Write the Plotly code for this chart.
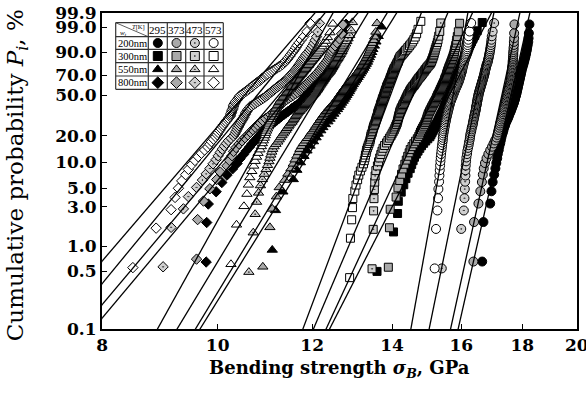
import numpy as np
import plotly.graph_objects as go

# ---------------- data ----------------
temps_K = [295, 373, 473, 573]
widths = ["200nm", "300nm", "550nm", "800nm"]
y_tick_pct = [0.1, 0.5, 1.0, 3.0, 5.0, 10.0, 20.0, 50.0, 70.0, 90.0, 99.0, 99.9]
y_tick_text = ["0.1", "0.5", "1.0", "3.0", "5.0", "10.0", "20.0", "50.0", "70.0", "90.0", "99.0", "99.9"]
x_tick_vals = [8, 10, 12, 14, 16, 18, 20]

# bending strength (GPa), sorted, per width / temperature
s200_295 = [16.66, 16.70, 16.92, 16.96, 17.00, 17.05, 17.09, 17.12, 17.15, 17.17,
            17.20, 17.22, 17.25, 17.27, 17.29, 17.31, 17.34, 17.36, 17.38, 17.41,
            17.43, 17.46, 17.49, 17.52, 17.54, 17.56, 17.59, 17.61, 17.63, 17.65,
            17.67, 17.69, 17.71, 17.72, 17.74, 17.75, 17.76, 17.78, 17.79, 17.80,
            17.81, 17.82, 17.83, 17.84, 17.85, 17.86, 17.87, 17.88, 17.89, 17.90,
            17.91, 17.92, 17.93, 17.94, 17.95, 17.96, 17.97, 17.98, 17.99, 18.01,
            18.02, 18.04, 18.05, 18.07, 18.08, 18.10, 18.11, 18.13, 18.14, 18.16,
            18.17, 18.19, 18.21, 18.22, 18.23, 18.25]
s200_373 = [16.38, 16.40, 16.54, 16.60, 16.65, 16.68, 16.71, 16.75, 16.80, 16.86,
            16.92, 16.98, 17.03, 17.08, 17.13, 17.16, 17.18, 17.20, 17.22, 17.24,
            17.25, 17.27, 17.29, 17.31, 17.32, 17.34, 17.35, 17.37, 17.38, 17.39,
            17.40, 17.42, 17.43, 17.44, 17.45, 17.46, 17.47, 17.48, 17.49, 17.50,
            17.51, 17.52, 17.53, 17.54, 17.55, 17.57, 17.58, 17.59, 17.60, 17.60,
            17.61, 17.62, 17.62, 17.63, 17.63, 17.64, 17.64, 17.65, 17.65, 17.66,
            17.66, 17.67, 17.67, 17.67, 17.68, 17.68, 17.69, 17.69, 17.69, 17.70,
            17.70, 17.71, 17.71, 17.72, 17.72, 17.73]
s200_473 = [15.41, 16.00, 16.08, 16.10, 16.11, 16.12, 16.13, 16.13, 16.14, 16.15,
            16.16, 16.18, 16.19, 16.21, 16.23, 16.24, 16.26, 16.27, 16.28, 16.29,
            16.31, 16.32, 16.33, 16.35, 16.36, 16.37, 16.38, 16.39, 16.40, 16.41,
            16.42, 16.43, 16.44, 16.45, 16.46, 16.46, 16.47, 16.48, 16.49, 16.49,
            16.50, 16.51, 16.51, 16.52, 16.53, 16.54, 16.54, 16.55, 16.56, 16.57,
            16.58, 16.59, 16.60, 16.61, 16.62, 16.63, 16.64, 16.65, 16.66, 16.67,
            16.68, 16.69, 16.70, 16.71, 16.72, 16.73, 16.74, 16.74, 16.75, 16.76,
            16.77, 16.78, 16.79, 16.80, 16.81, 16.83, 16.84, 16.85, 16.86, 16.87,
            16.88, 16.89, 16.90, 16.91, 16.92, 16.93, 16.94, 16.95, 16.96, 16.97,
            17.00, 17.05]
s200_573 = [15.20, 15.24, 15.28, 15.30, 15.31, 15.33, 15.34, 15.35, 15.36, 15.37,
            15.38, 15.39, 15.40, 15.41, 15.42, 15.43, 15.44, 15.44, 15.45, 15.46,
            15.47, 15.48, 15.49, 15.50, 15.51, 15.52, 15.53, 15.54, 15.55, 15.56,
            15.57, 15.58, 15.59, 15.60, 15.61, 15.62, 15.63, 15.64, 15.65, 15.66,
            15.67, 15.69, 15.70, 15.71, 15.73, 15.74, 15.75, 15.77, 15.78, 15.79,
            15.81, 15.82, 15.83, 15.85, 15.86, 15.88, 15.89, 15.90, 15.92, 15.93,
            15.94, 15.95, 15.96, 15.97, 15.98, 15.99, 16.00, 16.01, 16.02, 16.03,
            16.03, 16.04, 16.05, 16.06, 16.07, 16.08, 16.09, 16.10, 16.12, 16.13,
            16.14, 16.15, 16.16, 16.17, 16.18, 16.19, 16.20, 16.21, 16.22, 16.23,
            16.26, 16.31]

s300_295 = [13.60, 14.04, 14.15, 14.17, 14.25, 14.32, 14.38, 14.44, 14.50, 14.54,
            14.58, 14.62, 14.67, 14.72, 14.77, 14.82, 14.88, 14.94, 15.00, 15.06,
            15.09, 15.12, 15.15, 15.17, 15.20, 15.22, 15.25, 15.28, 15.30, 15.32,
            15.34, 15.36, 15.38, 15.40, 15.42, 15.44, 15.46, 15.47, 15.49, 15.50,
            15.51, 15.53, 15.54, 15.55, 15.57, 15.58, 15.59, 15.60, 15.62, 15.63,
            15.64, 15.65, 15.67, 15.68, 15.69, 15.71, 15.72, 15.73, 15.75, 15.76,
            15.77, 15.78, 15.80, 15.81, 15.82, 15.83, 15.84, 15.85, 15.86, 15.88,
            15.89, 15.90, 15.92, 15.93, 15.94, 15.96, 15.97, 15.98, 16.00, 16.01,
            16.02, 16.03, 16.05, 16.06, 16.08, 16.10, 16.11, 16.13, 16.15, 16.17,
            16.19, 16.21, 16.23, 16.25, 16.28, 16.32, 16.36, 16.42, 16.50, 16.66]
s300_373 = [13.90, 13.93, 13.95, 14.11, 14.16, 14.21, 14.26, 14.30, 14.35, 14.39,
            14.43, 14.47, 14.50, 14.55, 14.60, 14.65, 14.70, 14.74, 14.77, 14.79,
            14.82, 14.85, 14.88, 14.91, 14.93, 14.95, 14.97, 14.98, 15.00, 15.01,
            15.03, 15.05, 15.07, 15.09, 15.11, 15.13, 15.15, 15.17, 15.19, 15.21,
            15.23, 15.25, 15.26, 15.28, 15.29, 15.31, 15.33, 15.34, 15.36, 15.37,
            15.39, 15.40, 15.42, 15.43, 15.45, 15.46, 15.48, 15.49, 15.50, 15.51,
            15.53, 15.54, 15.55, 15.56, 15.57, 15.58, 15.59, 15.61, 15.62, 15.63,
            15.65, 15.66, 15.68, 15.69, 15.71, 15.72, 15.74, 15.75, 15.77, 15.78,
            15.79, 15.80, 15.82, 15.83, 15.85, 15.86, 15.88, 15.91, 15.95]
s300_473 = [13.47, 13.50, 13.51, 13.52, 13.53, 13.54, 13.55, 13.57, 13.61, 13.64,
            13.67, 13.70, 13.73, 13.76, 13.80, 13.85, 13.89, 13.93, 13.97, 14.00,
            14.03, 14.06, 14.08, 14.10, 14.12, 14.14, 14.15, 14.16, 14.17, 14.18,
            14.19, 14.20, 14.21, 14.22, 14.24, 14.25, 14.27, 14.29, 14.30, 14.32,
            14.34, 14.35, 14.37, 14.38, 14.40, 14.41, 14.43, 14.44, 14.46, 14.48,
            14.49, 14.51, 14.53, 14.55, 14.57, 14.60, 14.62, 14.64, 14.66, 14.68,
            14.70, 14.72, 14.74, 14.77, 14.79, 14.82, 14.84, 14.86, 14.89, 14.91,
            14.93, 14.96, 14.98, 15.01, 15.04, 15.07, 15.09, 15.11, 15.12, 15.14,
            15.15, 15.17, 15.18, 15.19, 15.21, 15.22, 15.24, 15.26, 15.28, 15.30,
            15.32, 15.35, 15.38]
s300_573 = [12.90, 12.92, 12.95, 12.97, 12.98, 13.03, 13.06, 13.10, 13.13, 13.17,
            13.21, 13.25, 13.27, 13.29, 13.30, 13.32, 13.33, 13.35, 13.37, 13.39,
            13.41, 13.42, 13.43, 13.44, 13.45, 13.47, 13.48, 13.49, 13.50, 13.51,
            13.52, 13.54, 13.55, 13.56, 13.57, 13.58, 13.59, 13.60, 13.61, 13.62,
            13.62, 13.63, 13.64, 13.65, 13.66, 13.67, 13.68, 13.69, 13.69, 13.70,
            13.71, 13.72, 13.73, 13.74, 13.74, 13.75, 13.76, 13.77, 13.78, 13.79,
            13.79, 13.80, 13.81, 13.82, 13.82, 13.83, 13.84, 13.85, 13.85, 13.86,
            13.87, 13.88, 13.89, 13.90, 13.91, 13.92, 13.93, 13.94, 13.95, 13.95,
            13.96, 13.97, 13.98, 13.99, 14.00, 14.00, 14.01, 14.02, 14.03, 14.04,
            14.05, 14.06, 14.08, 14.09, 14.10, 14.12, 14.13, 14.14, 14.16, 14.17,
            14.18, 14.19, 14.21, 14.22, 14.25, 14.28, 14.31, 14.34, 14.37, 14.41,
            14.44, 14.48, 14.52, 14.56, 14.60, 14.64, 14.68, 14.72, 14.80]

s550_295 = [11.11, 11.18, 11.34, 11.57, 11.65, 11.73, 11.81, 11.88, 11.95, 12.03,
            12.09, 12.14, 12.20, 12.25, 12.31, 12.37, 12.42, 12.46, 12.51, 12.55,
            12.60, 12.63, 12.67, 12.70, 12.74, 12.77, 12.80, 12.83, 12.86, 12.89,
            12.91, 12.94, 12.96, 12.99, 13.02, 13.05, 13.08, 13.11, 13.14, 13.17,
            13.20, 13.23, 13.26, 13.29, 13.32, 13.35, 13.37, 13.40, 13.43, 13.46,
            13.49, 13.53, 13.57, 13.63, 13.72]
s550_373 = [10.91, 11.06, 11.11, 11.20, 11.26, 11.38, 11.45, 11.52, 11.57, 11.61,
            11.65, 11.69, 11.72, 11.76, 11.80, 11.85, 11.89, 11.93, 11.96, 12.00,
            12.04, 12.07, 12.09, 12.12, 12.15, 12.18, 12.20, 12.23, 12.26, 12.28,
            12.31, 12.34, 12.37, 12.40, 12.43, 12.46, 12.48, 12.51, 12.54, 12.56,
            12.58, 12.60, 12.62, 12.64, 12.66, 12.68, 12.70, 12.72, 12.74, 12.76,
            12.78, 12.80, 12.83, 12.85, 12.87, 12.90, 12.92, 12.94, 12.97, 12.99,
            13.01, 13.04, 13.06, 13.08, 13.10, 13.12, 13.14, 13.16, 13.18, 13.20,
            13.22, 13.24, 13.26, 13.28, 13.30, 13.32, 13.34, 13.36, 13.38, 13.40,
            13.42, 13.44, 13.46, 13.48, 13.51, 13.54, 13.57, 13.60]
s550_473 = [10.62, 10.71, 10.75, 10.78, 10.82, 10.86, 10.90, 10.94, 10.98, 11.01,
            11.04, 11.06, 11.08, 11.10, 11.12, 11.15, 11.19, 11.23, 11.26, 11.29,
            11.32, 11.35, 11.38, 11.41, 11.43, 11.46, 11.48, 11.51, 11.54, 11.56,
            11.58, 11.60, 11.62, 11.64, 11.66, 11.68, 11.71, 11.73, 11.76, 11.78,
            11.80, 11.82, 11.84, 11.86, 11.88, 11.91, 11.93, 11.95, 11.97, 11.99,
            12.01, 12.03, 12.05, 12.07, 12.08, 12.10, 12.12, 12.13, 12.15, 12.16,
            12.17, 12.19, 12.20, 12.22, 12.23, 12.25, 12.26, 12.28, 12.29, 12.31,
            12.32, 12.34, 12.36, 12.38, 12.40, 12.42, 12.43, 12.45, 12.46, 12.48,
            12.49, 12.51, 12.52, 12.54, 12.55, 12.57, 12.59, 12.61, 12.63, 12.65,
            12.67, 12.69, 12.71, 12.73, 12.75, 12.77, 12.80, 12.83, 12.86, 12.90,
            12.94, 12.97]
s550_573 = [10.26, 10.37, 10.52, 10.58, 10.61, 10.64, 10.68, 10.72, 10.75, 10.78,
            10.81, 10.85, 10.88, 10.90, 10.92, 10.94, 10.96, 10.97, 10.99, 11.01,
            11.03, 11.04, 11.06, 11.07, 11.08, 11.10, 11.12, 11.14, 11.15, 11.17,
            11.18, 11.20, 11.21, 11.23, 11.25, 11.26, 11.28, 11.30, 11.33, 11.35,
            11.37, 11.39, 11.41, 11.43, 11.46, 11.48, 11.50, 11.52, 11.54, 11.56,
            11.58, 11.60, 11.62, 11.64, 11.66, 11.68, 11.70, 11.72, 11.75, 11.77,
            11.79, 11.81, 11.84, 11.86, 11.88, 11.91, 11.93, 11.95, 11.98, 12.01,
            12.04, 12.07, 12.10, 12.13, 12.16, 12.19, 12.23, 12.27, 12.31, 12.36,
            12.42, 12.49]

s800_295 = [9.78, 9.79, 9.82, 9.97, 10.08, 10.18, 10.29, 10.38, 10.44, 10.51,
            10.57, 10.63, 10.68, 10.74, 10.79, 10.84, 10.89, 10.94, 11.00, 11.05,
            11.10, 11.16, 11.21, 11.26, 11.31, 11.36, 11.41, 11.46, 11.51, 11.55,
            11.60, 11.65, 11.70, 11.74, 11.77, 11.79, 11.82, 11.84, 11.87, 11.89,
            11.92, 11.94, 11.97, 11.99, 12.02, 12.04, 12.06, 12.08, 12.11, 12.13,
            12.15, 12.17, 12.20, 12.22, 12.24, 12.26, 12.28, 12.30, 12.32, 12.34,
            12.36, 12.38, 12.41, 12.44, 12.47, 12.50, 12.53, 12.56, 12.59, 12.62,
            12.66, 12.68, 12.70, 12.72, 12.75, 12.78, 12.81]
s800_373 = [9.60, 9.62, 9.73, 9.85, 9.98, 10.05, 10.18, 10.23, 10.28, 10.31,
            10.36, 10.42, 10.48, 10.54, 10.60, 10.65, 10.70, 10.75, 10.80, 10.85,
            10.91, 10.97, 11.03, 11.08, 11.13, 11.16, 11.19, 11.23, 11.26, 11.30,
            11.33, 11.37, 11.42, 11.47, 11.52, 11.57, 11.62, 11.67, 11.72, 11.75,
            11.78, 11.81, 11.84, 11.87, 11.90, 11.93, 11.96, 11.99, 12.02, 12.06,
            12.09, 12.12, 12.15, 12.18, 12.21, 12.24, 12.26, 12.29, 12.32, 12.35,
            12.38, 12.40, 12.42, 12.44, 12.46, 12.49, 12.54, 12.59, 12.65, 12.70,
            12.74]
s800_473 = [9.00, 9.14, 9.36, 9.45, 9.60, 9.71, 9.78, 9.85, 9.91, 9.97,
            10.01, 10.05, 10.09, 10.13, 10.17, 10.21, 10.26, 10.31, 10.34, 10.36,
            10.38, 10.40, 10.42, 10.44, 10.46, 10.48, 10.50, 10.52, 10.53, 10.55,
            10.56, 10.58, 10.60, 10.62, 10.64, 10.68, 10.72, 10.76, 10.80, 10.84,
            10.88, 10.92, 10.96, 10.99, 11.02, 11.05, 11.08, 11.11, 11.14, 11.17,
            11.20, 11.23, 11.26, 11.29, 11.32, 11.35, 11.38, 11.41, 11.44, 11.46,
            11.48, 11.50, 11.53, 11.55, 11.57, 11.60, 11.62, 11.64, 11.66, 11.68,
            11.70, 11.72, 11.74, 11.76, 11.78, 11.80, 11.83, 11.85, 11.88, 11.92,
            11.95, 11.98, 12.01, 12.04, 12.07, 12.10, 12.13, 12.17]
s800_573 = [8.49, 8.88, 9.14, 9.21, 9.27, 9.33, 9.40, 9.45, 9.51, 9.57,
            9.63, 9.69, 9.75, 9.81, 9.85, 9.88, 9.92, 9.96, 9.99, 10.01,
            10.04, 10.06, 10.09, 10.11, 10.14, 10.16, 10.19, 10.21, 10.24, 10.25,
            10.26, 10.27, 10.28, 10.29, 10.30, 10.31, 10.31, 10.32, 10.34, 10.35,
            10.37, 10.39, 10.41, 10.42, 10.44, 10.47, 10.50, 10.53, 10.56, 10.59,
            10.62, 10.65, 10.68, 10.71, 10.73, 10.76, 10.79, 10.82, 10.85, 10.88,
            10.90, 10.93, 10.96, 10.99, 11.01, 11.05, 11.09, 11.13, 11.17, 11.21,
            11.25, 11.29, 11.33, 11.36, 11.39, 11.41, 11.44, 11.46, 11.49, 11.51,
            11.54, 11.57, 11.60, 11.63, 11.66, 11.70, 11.75, 11.81, 11.88, 11.95]

# Weibull fit lines: modulus m and scale sigma0 (GPa), temperature order 295,373,473,573
m_200 = [63.9, 66.1, 70.8, 80.4]
s0_200 = [17.72, 17.40, 16.58, 15.82]
m_300 = [28.3, 31.3, 34.1, 38.7]
s0_300 = [15.84, 15.37, 14.73, 14.09]
m_550 = [23.3, 23.9, 24.0, 26.1]
s0_550 = [13.00, 12.79, 12.33, 11.60]
m_800 = [17.3, 17.2, 17.6, 16.9]
s0_800 = [11.72, 11.49, 11.02, 10.76]

# ---------------- styling ----------------
FONT = "DejaVu Serif"
symbols = {"200nm": "circle", "300nm": "square", "550nm": "triangle-up", "800nm": "diamond"}
sizes = {"200nm": 9, "300nm": 8, "550nm": 9, "800nm": 8}
fills = {295: "black", 373: "#a9a9a9", 473: "#cfcfcf", 573: "white"}
dots = {295: "", 373: "", 473: "-dot", 573: ""}

groups = {
    "200nm": ([s200_295, s200_373, s200_473, s200_573], m_200, s0_200),
    "300nm": ([s300_295, s300_373, s300_473, s300_573], m_300, s0_300),
    "550nm": ([s550_295, s550_373, s550_473, s550_573], m_550, s0_550),
    "800nm": ([s800_295, s800_373, s800_473, s800_573], m_800, s0_800),
}


def weib(p):
    p = np.asarray(p, dtype=float)
    return np.log(-np.log(1.0 - p))


Y_LO = float(weib(0.001))
Y_HI = float(weib(0.999))

fig = go.Figure()

# data points
for w in widths[::-1]:
    series, ms, s0s = groups[w]
    for t, vals in zip(temps_K, series):
        vals = np.sort(np.asarray(vals, dtype=float))
        n = len(vals)
        p = (np.arange(1, n + 1) - 0.5) / n
        fig.add_trace(go.Scatter(
            x=vals, y=weib(p), mode="markers", showlegend=False,
            marker=dict(symbol=symbols[w] + dots[t], size=sizes[w], color=fills[t],
                        line=dict(color="black", width=1)),
        ))

# fitted lines
yl = np.array([Y_LO - 0.5, Y_HI + 0.5])
for w in widths:
    series, ms, s0s = groups[w]
    for m, s0 in zip(ms, s0s):
        fig.add_trace(go.Scatter(
            x=s0 * np.exp(yl / m), y=yl, mode="lines", showlegend=False,
            line=dict(color="black", width=1.3),
        ))

# ---------------- legend table (drawn in an overlay pixel frame) ----------------
col_edges = [115.7, 148.3, 167.3, 185.7, 204.0, 223.3]
row_edges = [22.7, 36.7, 49.3, 62.7, 76.0, 89.3]
shapes = []
for xe in col_edges:
    shapes.append(dict(type="line", xref="x2", yref="y2", x0=xe, x1=xe,
                       y0=row_edges[0], y1=row_edges[-1], line=dict(color="#333", width=1.2)))
for ye in row_edges:
    shapes.append(dict(type="line", xref="x2", yref="y2", x0=col_edges[0], x1=col_edges[-1],
                       y0=ye, y1=ye, line=dict(color="#333", width=1.2)))
shapes.append(dict(type="line", xref="x2", yref="y2", x0=col_edges[0], x1=col_edges[1],
                   y0=row_edges[0], y1=row_edges[1], line=dict(color="#333", width=0.8)))

lx, ly, lsym, lcol = [], [], [], []
for r, w in enumerate(widths):
    for c, t in enumerate(temps_K):
        lx.append((col_edges[c + 1] + col_edges[c + 2]) / 2)
        ly.append((row_edges[r + 1] + row_edges[r + 2]) / 2)
        lsym.append(symbols[w] + dots[t])
        lcol.append(fills[t])
fig.add_trace(go.Scatter(
    x=lx, y=ly, xaxis="x2", yaxis="y2", mode="markers", showlegend=False,
    marker=dict(symbol=lsym, size=9, color=lcol, line=dict(color="black", width=1)),
))

annotations = []
for c, t in enumerate(temps_K):
    annotations.append(dict(x=(col_edges[c + 1] + col_edges[c + 2]) / 2, y=(row_edges[0] + row_edges[1]) / 2,
                            xref="x2", yref="y2", text=str(t), showarrow=False,
                            font=dict(family="Liberation Serif", size=11, color="black")))
for r, w in enumerate(widths):
    annotations.append(dict(x=(col_edges[0] + col_edges[1]) / 2, y=(row_edges[r + 1] + row_edges[r + 2]) / 2,
                            xref="x2", yref="y2", text=w, showarrow=False,
                            font=dict(family="Liberation Serif", size=10.5, color="black")))
annotations.append(dict(x=147, y=26.5, xref="x2", yref="y2", text="<i>T</i>[K]", showarrow=False,
                        xanchor="right", font=dict(family="Liberation Serif", size=6.5, color="black")))
annotations.append(dict(x=117.5, y=33, xref="x2", yref="y2", text="<i>w<sub>t</sub></i>", showarrow=False,
                        xanchor="left", font=dict(family="Liberation Serif", size=7, color="black")))

# axis titles
annotations.append(dict(x=0.5, y=-0.127, xref="paper", yref="paper", showarrow=False,
                        text="<b>Bending strength </b><b><i>σ<sub>B</sub></i></b><b>, GPa</b>",
                        xanchor="center", yanchor="middle",
                        font=dict(family=FONT, size=18, color="black")))
annotations.append(dict(x=-0.18, y=0.485, xref="paper", yref="paper", showarrow=False,
                        text="Cumulative probability <i>P<sub>i</sub></i>, %", textangle=-90,
                        xanchor="center", yanchor="middle",
                        font=dict(family=FONT, size=23, color="black")))

fig.update_layout(
    width=586, height=403,
    margin=dict(l=102, r=9, t=13, b=74, autoexpand=False),
    paper_bgcolor="white", plot_bgcolor="white",
    showlegend=False,
    xaxis=dict(type="log", range=[np.log10(7.999), np.log10(20.005)],
               tickvals=x_tick_vals, ticktext=[str(v) for v in x_tick_vals],
               ticklabeloverflow="allow", automargin=False,
               ticks="inside", ticklen=5, tickwidth=1.2, tickcolor="black",
               showgrid=False, zeroline=False, showline=True, mirror=True,
               linecolor="black", linewidth=2,
               tickfont=dict(family=FONT, size=17, color="black", weight="bold")),
    yaxis=dict(range=[Y_LO, Y_HI],
               tickvals=list(weib(np.array(y_tick_pct) / 100.0)), ticktext=y_tick_text,
               ticklabeloverflow="allow", automargin=False,
               ticks="inside", ticklen=5, tickwidth=1.2, tickcolor="black",
               showgrid=False, zeroline=False, showline=True, mirror=True,
               linecolor="black", linewidth=2,
               tickfont=dict(family=FONT, size=17, color="black", weight="bold")),
    xaxis2=dict(overlaying="x", anchor="y2", range=[102, 577], visible=False),
    yaxis2=dict(overlaying="y", anchor="x2", range=[329, 13], visible=False),
    shapes=shapes,
    annotations=annotations,
)

fig.write_html("out.html")
